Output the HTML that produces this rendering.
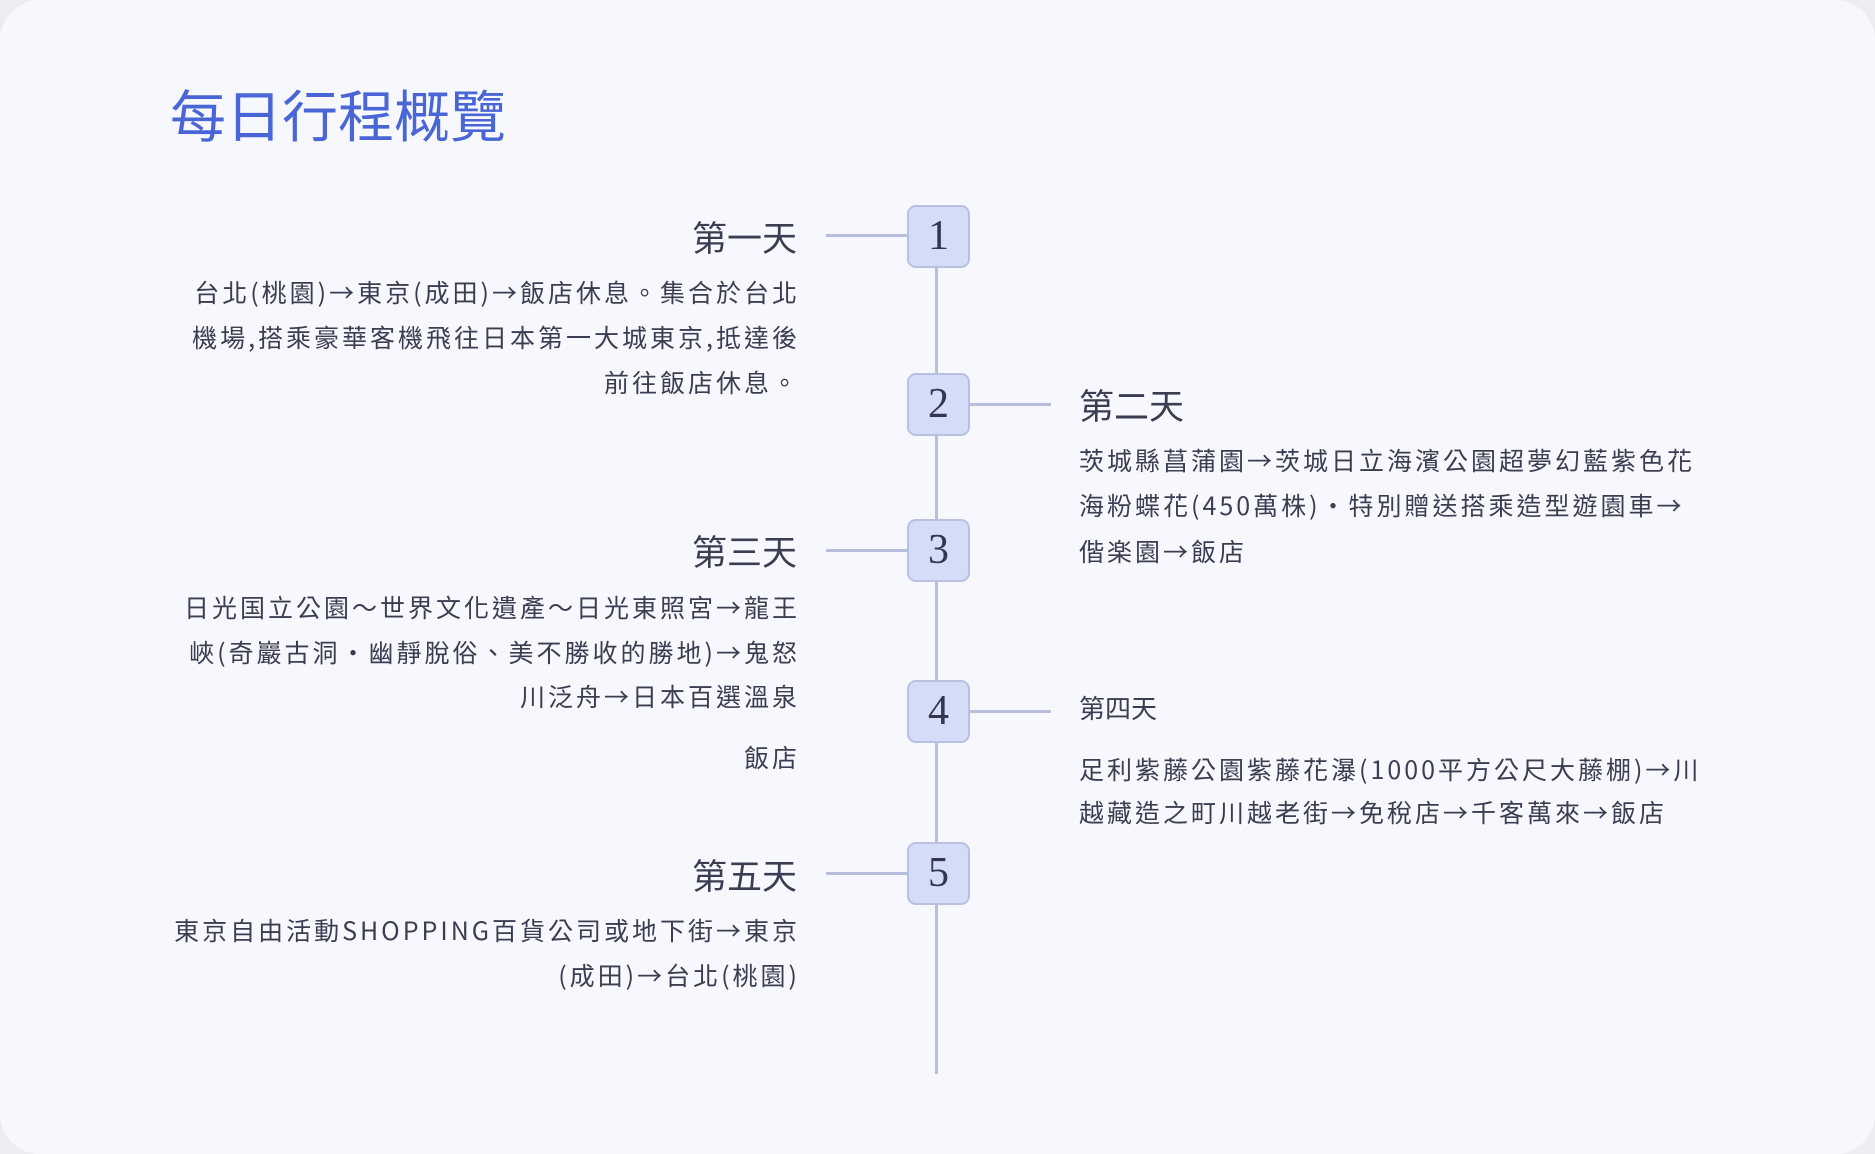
<!DOCTYPE html>
<html><head><meta charset="utf-8"><style>
html,body{margin:0;padding:0;width:1875px;height:1154px;overflow:hidden;background:#ececf1;}
.page{position:absolute;left:0;top:0;width:1875px;height:1154px;background:#f7f8fd;border-radius:40px;}
.t{position:absolute;white-space:nowrap;font-family:"Noto Sans CJK TC","Liberation Sans",sans-serif;color:#3b3e52;line-height:1;}
.h{font-size:35px;}
.b{font-size:25px;letter-spacing:3px;}
.l{text-align:right;right:1078px;}
.b.l{right:1075px;}
.r{left:1079px;}
.box{position:absolute;left:907px;width:59px;height:59px;background:#d5dcf7;border:2px solid #b8c1e2;border-radius:9px;font-family:"Liberation Serif",serif;font-size:42px;color:#33364f;text-align:center;line-height:59px;}
.hl{position:absolute;height:3px;background:#b8bedb;}
</style></head><body><div class="page">
<div class="t" style="left:170px;top:86px;font-size:56px;color:#4a66d6;">每日行程概覽</div>
<div style="position:absolute;left:935px;top:236px;width:3px;height:838px;background:#b8bedb;"></div>
<div class="hl" style="left:826px;top:234px;width:82px;"></div>
<div class="hl" style="left:966px;top:403px;width:85px;"></div>
<div class="hl" style="left:826px;top:549px;width:82px;"></div>
<div class="hl" style="left:966px;top:710px;width:85px;"></div>
<div class="hl" style="left:826px;top:872px;width:82px;"></div>
<div class="box" style="top:205px;">1</div>
<div class="box" style="top:373px;">2</div>
<div class="box" style="top:519px;">3</div>
<div class="box" style="top:680px;">4</div>
<div class="box" style="top:842px;">5</div>

<div class="t h l" style="top:219px;">第一天</div>
<div class="t b l" style="top:280px;">台北(桃園)→東京(成田)→飯店休息。集合於台北</div>
<div class="t b l" style="top:325px;">機場,搭乘豪華客機飛往日本第一大城東京,抵達後</div>
<div class="t b l" style="top:370px;">前往飯店休息。</div>

<div class="t h r" style="top:387px;">第二天</div>
<div class="t b r" style="top:448px;">茨城縣菖蒲園→茨城日立海濱公園超夢幻藍紫色花</div>
<div class="t b r" style="top:493px;">海粉蝶花(450萬株)・特別贈送搭乘造型遊園車→</div>
<div class="t b r" style="top:539px;">偕楽園→飯店</div>

<div class="t h l" style="top:533px;">第三天</div>
<div class="t b l" style="top:595px;">日光国立公園〜世界文化遺產〜日光東照宮→龍王</div>
<div class="t b l" style="top:640px;">峽(奇巖古洞・幽靜脫俗、美不勝收的勝地)→鬼怒</div>
<div class="t b l" style="top:684px;">川泛舟→日本百選溫泉</div>
<div class="t b l" style="top:745px;">飯店</div>

<div class="t r" style="top:695px;font-size:26px;">第四天</div>
<div class="t b r" style="top:757px;">足利紫藤公園紫藤花瀑(1000平方公尺大藤棚)→川</div>
<div class="t b r" style="top:800px;">越藏造之町川越老街→免稅店→千客萬來→飯店</div>

<div class="t h l" style="top:857px;">第五天</div>
<div class="t b l" style="top:918px;">東京自由活動SHOPPING百貨公司或地下街→東京</div>
<div class="t b l" style="top:963px;">(成田)→台北(桃園)</div>
</div></body></html>
